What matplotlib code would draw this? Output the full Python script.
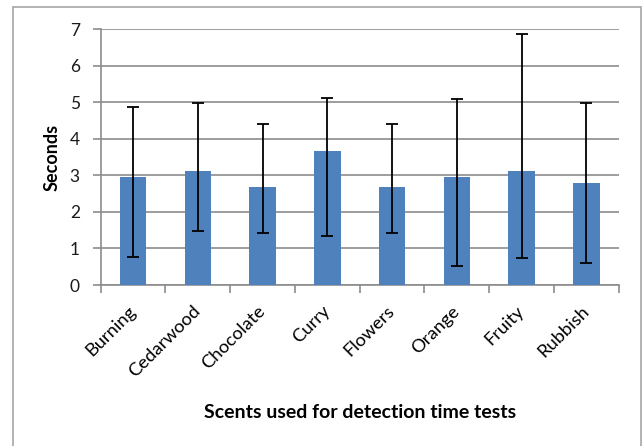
import numpy as np
import matplotlib
matplotlib.use("Agg")
import matplotlib.pyplot as plt
from matplotlib.patches import Rectangle

# scents and detection times (seconds)
scents = ["Burning", "Cedarwood", "Chocolate", "Curry", "Flowers", "Orange", "Fruity", "Rubbish"]
means = [2.97, 3.12, 2.68, 3.68, 2.68, 2.96, 3.11, 2.78]
err_top = [4.88, 4.97, 4.40, 5.13, 4.40, 5.10, 6.87, 4.97]
err_bottom = [0.77, 1.47, 1.42, 1.33, 1.42, 0.51, 0.73, 0.59]

plt.rcParams['font.family'] = ['Lato', 'DejaVu Sans']

fig = plt.figure(figsize=(6.42, 4.46), dpi=100)
W, H = 642.0, 446.0
ax = fig.add_axes([100.7 / W, 1 - 285 / H, (618.7 - 100.7) / W, (285 - 29.3) / H])

# outer chart frame
fig.patches.append(Rectangle((12.5 / W, -0.05), (641.3 - 12.5) / W, 1 - 7 / H + 0.05,
                             transform=fig.transFigure, fill=False, edgecolor='#a6a6a6', lw=1.2))

x = np.arange(len(scents))
means = np.array(means)
lower = means - np.array(err_bottom)
upper = np.array(err_top) - means
ax.bar(x, means, width=0.41, color='#4f81bd', zorder=3)
ax.errorbar(x, means, yerr=[lower, upper], fmt='none', ecolor='black', elinewidth=1.3,
            capsize=4.5, capthick=1.3, zorder=4)

ax.set_xlim(-0.5, len(scents) - 0.5)
ax.set_ylim(0, 7)
ax.set_yticks(range(0, 8))
ax.yaxis.grid(True, color='#8c8c8c', lw=1.2, zorder=0)
ax.set_axisbelow(True)
for s in ['top', 'right']:
    ax.spines[s].set_visible(False)
for s in ['left', 'bottom']:
    ax.spines[s].set_color('#8c8c8c')
    ax.spines[s].set_linewidth(1.2)

ax.set_xticks(np.arange(-0.5, len(scents), 1.0))
ax.set_xticklabels([])
ax.set_xticks(x, minor=True)
ax.set_xticklabels(scents, minor=True, rotation=45, ha='right', va='center',
                   rotation_mode='anchor', fontsize=13.2)
ax.tick_params(axis='x', which='major', length=6, color='#8c8c8c', width=1.2)
ax.tick_params(axis='x', which='minor', length=0, pad=17)
ax.tick_params(axis='y', length=6, color='#8c8c8c', width=1.2, labelsize=12.5, pad=9, labelcolor='#1a1a1a')

ax.yaxis.set_label_coords((52 - 100.7) / (618.7 - 100.7), 0.5)
ax.set_ylabel("Seconds", fontsize=13, fontweight='bold', va='center')
fig.text(359.7 / W, 1 - 413 / H, "Scents used for detection time tests", ha='center', va='center',
         fontsize=14, fontweight='bold')

fig.savefig("out.png", dpi=100)
